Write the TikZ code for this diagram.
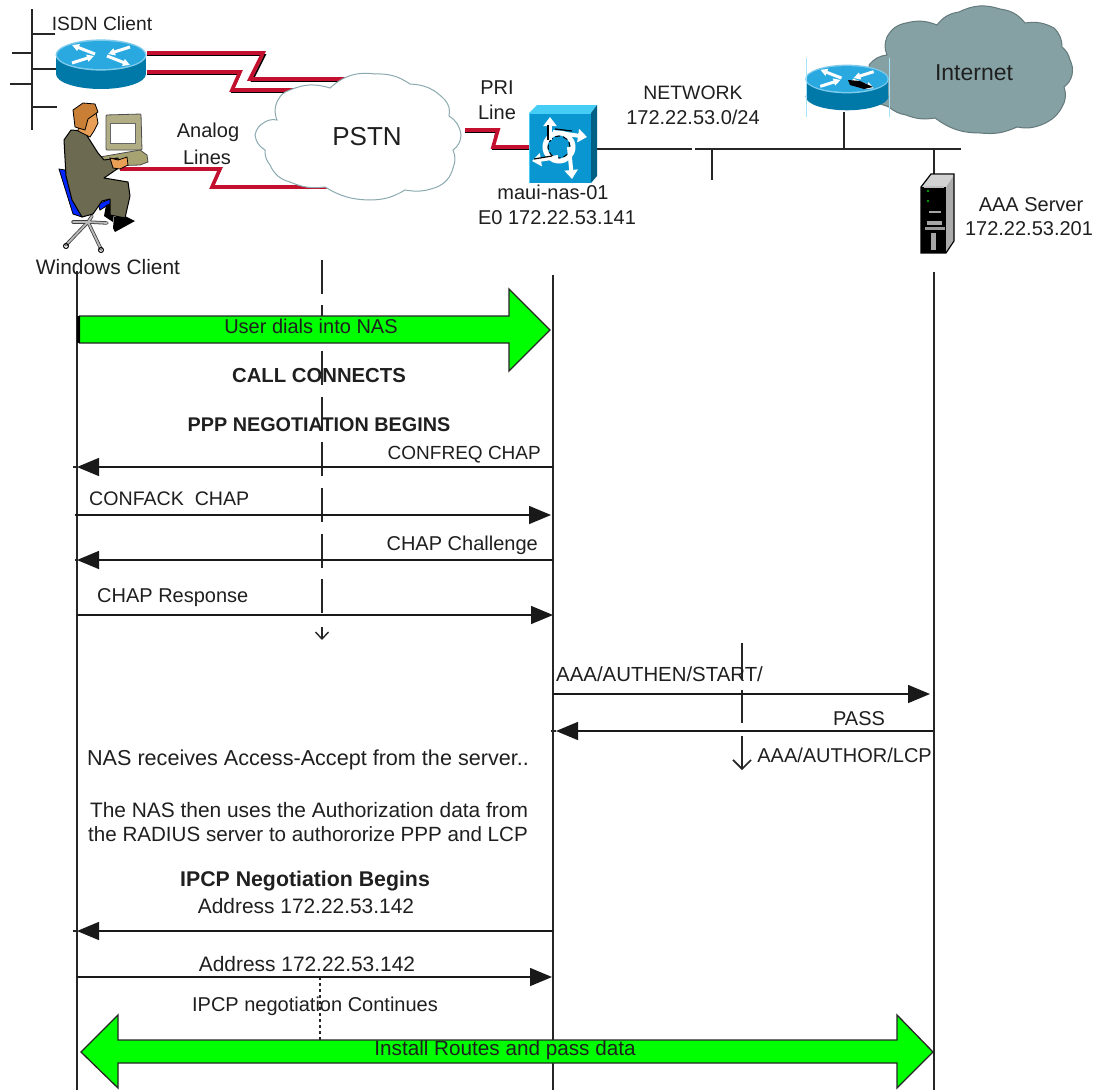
\documentclass[tikz,border=0pt]{standalone}
\usepackage{fontspec}
\setmainfont{Liberation Sans}
\usetikzlibrary{arrows.meta}
\definecolor{rtop}{HTML}{2AA9E0}
\definecolor{rside}{HTML}{0078A8}
\definecolor{swfront}{HTML}{0A96D0}
\definecolor{swside}{HTML}{005F85}
\definecolor{swtop}{HTML}{45CDF5}
\definecolor{wan}{HTML}{C4102F}
\definecolor{inet}{HTML}{85A1A4}
\definecolor{pstnedge}{HTML}{8BAAB0}
\definecolor{suit}{HTML}{6C6A50}
\definecolor{grn}{HTML}{00FF00}
\tikzset{
  lab/.style={font=\fontsize{20}{24}\selectfont,text=black!88,inner sep=0pt},
  fsz/.style={font=\fontsize{#1}{24}\selectfont},
  blab/.style={font=\fontsize{19.5}{24}\selectfont\bfseries,text=black!88,inner sep=0pt},
  bsz/.style={font=\fontsize{#1}{24}\selectfont\bfseries},
  life/.style={line width=1.6pt,black!85},
  thinline/.style={line width=1.5pt,black!85},
  msg/.style={line width=1.5pt,black!90,-{Triangle[length=22pt,width=18pt]}},
  bigarrow/.style={fill=grn,draw=black!85,line width=1.3pt,line join=miter},
  wanred/.style={line width=3.6pt,wan,line join=miter},
  wanblack/.style={line width=1.6pt,black,line join=miter},
  devout/.style={draw=black,line width=1pt,line join=round},
}
\newcommand{\rtricon}[3]{%
\begin{scope}[shift={(#1,#2)},x=#3pt,y=-#3pt]
  \fill[rside] (-45,0) rectangle (45,19);
  \fill[rside] (0,19) ellipse [x radius=#3*45pt,y radius=#3*15pt];
  \fill[rtop!60!white] (0,0) ellipse [x radius=#3*45.5pt,y radius=#3*15.6pt];
  \fill[rtop] (0,0) ellipse [x radius=#3*44pt,y radius=#3*14pt];
  \draw[white,line width=3pt,-{Triangle[length=7pt,width=7pt]}] (-6,-1) -- (-29,-10);
  \draw[white,line width=3pt,-{Triangle[length=7pt,width=7pt]}] (6,1) -- (29,10);
  \draw[white,line width=3pt,-{Triangle[length=7pt,width=7pt]}] (-29,8) -- (-7,1);
  \draw[white,line width=3pt,-{Triangle[length=7pt,width=7pt]}] (29,-8) -- (7,-1);
\end{scope}}
\begin{document}
\begin{tikzpicture}[x=1pt,y=-1pt]
\useasboundingbox (0,0) rectangle (1094,1090);
\fill[white] (0,0) rectangle (1094,1090);

%% ---- named coordinates
\coordinate (busT) at (32,9); \coordinate (busB) at (32,130);
\coordinate (s1a) at (32,34);  \coordinate (s1b) at (55,34);
\coordinate (s2a) at (12,53);  \coordinate (s2b) at (32,53);
\coordinate (s3a) at (32,69);  \coordinate (s3b) at (57,69);
\coordinate (s4a) at (10,84);  \coordinate (s4b) at (32,84);
\coordinate (s5a) at (32,107); \coordinate (s5b) at (57,107);
\coordinate (netL) at (597,149); \coordinate (netG1) at (692,149);
\coordinate (netG2) at (695,149); \coordinate (netR) at (961,149);
\coordinate (stubT) at (712,149); \coordinate (stubB) at (712,180);
\coordinate (r2stemT) at (844,112); \coordinate (r2stemB) at (844,149);
\coordinate (srvT) at (934,149); \coordinate (srvB) at (934,174);

\coordinate (cliT) at (77,271); \coordinate (cliB) at (77,1090);
\coordinate (nasT) at (553,275); \coordinate (nasB) at (553,1090);
\coordinate (aaaT) at (934,272); \coordinate (aaaB) at (934,1090);
\coordinate (midT) at (322,259.5); \coordinate (midB) at (322,616);
\coordinate (midaT) at (322,627); \coordinate (midaB) at (322,640);
\coordinate (dotT) at (320,977); \coordinate (dotB) at (320,1040);
\coordinate (aa1T) at (742,643); \coordinate (aa1B) at (742,680);
\coordinate (aa2T) at (742,690); \coordinate (aa2B) at (742,723);
\coordinate (aa3T) at (742,736); \coordinate (aa3B) at (742,770);

%% ---- ISDN bus
\draw[thinline] (busT) -- (busB);
\draw[thinline] (s1a) -- (s1b);
\draw[thinline] (s2a) -- (s2b);
\draw[thinline] (s3a) -- (s3b);
\draw[thinline] (s4a) -- (s4b);
\draw[thinline] (s5a) -- (s5b);

%% ---- WAN zigzags
\draw[wanblack] (147,55) -- (265,55) -- (252,81) -- (347,81);
\draw[wanred]   (147,53) -- (263,53) -- (250,79) -- (347,79);
\draw[wanblack] (147,74) -- (240,74) -- (232,92) -- (330,92);
\draw[wanred]   (147,72) -- (240,72) -- (232,90) -- (330,90);
\draw[wanred]   (120,169) -- (220,169) -- (212,187) -- (330,187);
\draw[wanblack] (465,132) -- (496,132) -- (493,149) -- (529,149);
\draw[wanred]   (465,130) -- (498,130) -- (493,147) -- (529,147);

%% ---- PSTN cloud
\draw[fill=white,draw=pstnedge,line width=1pt]
  (290,90) to[bend left=20] (330,88) to[bend left=25] (375,74) to[bend left=18] (410,84)
  to[bend left=22] (445,100) to[bend left=25] (449,116) to[bend left=25] (461,135)
  to[bend left=25] (453,150) to[bend left=22] (453,168) to[bend left=25] (437,187)
  to[bend left=15] (405,190) to[bend left=15] (370,200) to[bend left=15] (325,187)
  to[bend left=15] (290,182) to[bend left=25] (270,165) to[bend left=20] (265,150)
  to[bend left=25] (255,135) to[bend left=25] (265,122) to[bend left=20] (277,120)
  to[bend left=25] (278,100) to[bend left=22] (290,90) -- cycle;
\node[lab,fsz=26] (pstn) at (367,137) {PSTN};

%% ---- Internet cloud
\draw[fill=inet,draw=inet!75!black,line width=1pt]
  (869,65) to[bend left=22] (887,55) to[bend left=22] (887,37) to[bend left=25] (906,23)
  to[bend left=18] (937,25) to[bend left=22] (959,12) to[bend left=22] (1000,9)
  to[bend left=22] (1025,23) to[bend left=18] (1054,28) to[bend left=22] (1062,47)
  to[bend left=18] (1070,60) to[bend left=18] (1072,75) to[bend left=18] (1064,87)
  to[bend left=18] (1064,103) to[bend left=22] (1041,125) to[bend left=15] (1017,127)
  to[bend left=15] (980,133) to[bend left=18] (935,118) to[bend left=15] (906,115)
  to[bend left=15] (889,107) -- (869,100) -- cycle;
\node[lab,fsz=23] (internet) at (974,73) {Internet};

%% ---- network segment
\draw[thinline] (netL) -- (netG1);
\draw[thinline] (netG2) -- (netR);
\draw[thinline] (stubT) -- (stubB);
\draw[thinline] (r2stemT) -- (r2stemB);
\draw[thinline] (srvT) -- (srvB);

%% ---- routers
\rtricon{101}{55}{1}
\rtricon{847}{79}{.92}
\fill[black] (848,80) -- (860,81) -- (873,87) -- (864,89) -- (850,85) -- cycle;
\draw[cyan!35,line width=1pt] (806,58) -- (806,117);
\draw[cyan!35,line width=1pt] (889,58) -- (889,117);

%% ---- NAS switch
\fill[swtop] (529,113) -- (537,105) -- (597,105) -- (591,113) -- cycle;
\fill[swside] (591,113) -- (597,105) -- (597,176) -- (591,183) -- cycle;
\fill[swfront] (529,113) rectangle (591,183);
\draw[swtop,line width=1pt] (529,183) -- (529,113) -- (591,113);
\draw[white,line width=5pt] (559,147) circle [radius=14pt];
\draw[black,line width=1pt,dash pattern=on 5pt off 3pt] (559,147) circle [radius=11pt];
\draw[white,line width=4pt,-{Triangle[length=9pt,width=13pt]}] (550,140) -- (550,117);
\draw[white,line width=4pt,-{Triangle[length=9pt,width=13pt]}] (553,132) -- (587,137);
\draw[white,line width=4pt,-{Triangle[length=9pt,width=13pt]}] (558,157) -- (532,161);
\draw[white,line width=4pt,-{Triangle[length=9pt,width=13pt]}] (569,147) -- (572,179);
\draw[black,line width=1.2pt] (548,125) -- (548,140);
\draw[black,line width=1.2pt] (555,129) -- (572,131);
\draw[black,line width=1.2pt] (534,159) -- (552,156);

%% ---- server
\fill[gray!35] (921,187) -- (931,175) -- (954,175) -- (946,187) -- cycle;
\fill[gray!65] (946,187) -- (954,175) -- (954,241) -- (946,253) -- cycle;
\fill[black] (921,187) rectangle (946,253);
\draw[black,line width=1.2pt] (921,187) -- (931,174) -- (954,174) -- (954,241) -- (946,253) -- (921,253) -- cycle;
\draw[gray!50,line width=1.2pt] (924,187) -- (944,187);
\fill[green!80!black] (928,191) circle [radius=1.1pt];
\fill[green!80!black] (928,201) circle [radius=1.1pt];
\draw[gray!70,line width=1.4pt] (929,212) -- (941,212);
\fill[gray!70] (927,221) rectangle (942,225);
\fill[gray!80] (925,227) rectangle (945,230);
\fill[gray!70] (931,233) rectangle (936,250);

%% ---- person at laptop
\fill[rounded corners=1pt,fill=gray!65!olive!70,draw=black!70,line width=.8pt] (106,115) -- (141,114) -- (142,150) -- (106,150) -- cycle;
\fill[white] (110,123) rectangle (135,143);
\draw[black!60,line width=.8pt] (110,123) rectangle (135,143);
\fill[fill=gray!60!olive!80,draw=black!70,line width=.8pt] (100,157) -- (140,150) -- (147,155) -- (148,162) -- (140,165) -- (108,166) -- cycle;
\fill[fill=blue!85!cyan,draw=black,line width=.8pt] (59,169) -- (65,170) -- (83,207) -- (82,217) -- (73,214) -- cycle;
\fill[fill=blue!85!cyan,draw=black,line width=.8pt] (98,204) -- (115,197) -- (116,200) -- (100,210) -- cycle;
\begin{scope}[line cap=round]
  \foreach \ex/\ey in {66/245,101/249,73/222,107/223,92/216}{
    \draw[black!75,line width=3.4pt] (88,222) -- (\ex,\ey);
  }
  \foreach \ex/\ey in {66/245,101/249,73/222,107/223,92/216}{
    \draw[gray!55,line width=1.8pt] (88,222) -- (\ex,\ey);
  }
\end{scope}
\draw[black,line width=1pt] (66,246) circle [radius=2.5pt];
\draw[black,line width=1pt] (101,250) circle [radius=2.5pt];
\fill[black] (106,205) -- (115,203) -- (113,222) -- (104,216) -- cycle;
\fill[black] (114,217) -- (125,216) -- (135,221) -- (115,232) -- (113,228) -- cycle;
\filldraw[fill=suit,devout] (64,140) -- (71,130) -- (84,131) -- (98,153) -- (104,160) -- (118,158) -- (120,167) -- (104,178) -- (128,182) -- (130,196) -- (125,218) -- (110,215) -- (110,199) -- (102,201) -- (93,214) -- (82,217) -- (72,200) -- (66,176) -- cycle;
\filldraw[fill=orange!55!brown!75,draw=black,line width=.8pt] (80,115) -- (96,112) -- (98,123) -- (94,131) -- (90,137) -- (78,131) -- cycle;
\filldraw[fill=brown!85!orange,draw=black,line width=.8pt] (73,110) -- (83,103) -- (95,104) -- (98,112) -- (88,119) -- (85,130) -- (75,127) -- cycle;
\filldraw[fill=orange!55!brown!75,draw=black,line width=.8pt] (110,158) -- (118,160) -- (127,157) -- (128,165) -- (120,169) -- (113,168) -- cycle;

%% ---- lifelines
\draw[life] (cliT) -- (cliB);
\draw[life] (nasT) -- (nasB);
\draw[life] (aaaT) -- (aaaB);
\draw[life,dash pattern=on 34pt off 11.7pt] (midT) -- (midB);
\draw[line width=1.4pt,black!85,-{Straight Barb[length=7pt,width=13pt]}] (midaT) -- (midaB);
\draw[thinline,dash pattern=on 3pt off 3pt] (dotT) -- (dotB);
\draw[life] (aa1T) -- (aa1B);
\draw[life] (aa2T) -- (aa2B);
\draw[life,-{Straight Barb[length=9pt,width=18pt]}] (aa3T) -- (aa3B);

%% ---- big arrows
\filldraw[bigarrow] (79.5,316) -- (509,316) -- (509,289) -- (550,330) -- (509,371) -- (509,343) -- (79.5,343) -- cycle;
\draw[black,line width=3pt] (78,316) -- (78,343);
\filldraw[bigarrow] (81,1052) -- (118,1015) -- (118,1040) -- (897,1040) -- (897,1015) -- (933,1052) -- (897,1088) -- (897,1063) -- (118,1063) -- (118,1088) -- cycle;

%% ---- messages
\coordinate (m1a) at (553,467); \coordinate (m1b) at (77,467); \coordinate (m1x) at (73,467);
\coordinate (m2a) at (75,515);  \coordinate (m2b) at (551,515);
\coordinate (m3a) at (553,560); \coordinate (m3b) at (77,560); \coordinate (m3x) at (75,560);
\coordinate (m4a) at (77,615);  \coordinate (m4b) at (553,615);
\coordinate (m5a) at (553,694); \coordinate (m5b) at (930,694);
\coordinate (m6a) at (933,731); \coordinate (m6b) at (556,731); \coordinate (m6x) at (551,731);
\coordinate (m7a) at (553,931); \coordinate (m7b) at (77,931); \coordinate (m7x) at (73,931);
\coordinate (m8a) at (77,977);  \coordinate (m8b) at (552,977);
\draw[msg] (m1a) -- (m1b);
\draw[thinline] (m1b) -- (m1x);
\draw[msg] (m2a) -- (m2b);
\draw[msg] (m3a) -- (m3b);
\draw[thinline] (m3b) -- (m3x);
\draw[msg] (m4a) -- (m4b);
\draw[msg] (m5a) -- (m5b);
\draw[msg] (m6a) -- (m6b);
\draw[thinline] (m6b) -- (m6x);
\draw[msg] (m7a) -- (m7b);
\draw[thinline] (m7b) -- (m7x);
\draw[msg] (m8a) -- (m8b);

%% ---- labels, top
\node[lab,fsz=19.2] (tisdn) at (102,24) {ISDN Client};
\node[lab,fsz=20.9] (twin) at (108,267) {Windows Client};
\node[lab] (tana1) at (208,132) {Analog};
\node[lab] (tana2) at (207,157) {Lines};
\node[lab] (tpri1) at (497,88) {PRI};
\node[lab] (tpri2) at (497,112) {Line};
\node[lab,fsz=19.4] (tnet1) at (693,93) {NETWORK};
\node[lab,fsz=20] (tnet2) at (693,117) {172.22.53.0/24};
\node[lab] (tmaui) at (553,192) {maui-nas-01};
\node[lab] (te0) at (557,218) {E0 172.22.53.141};
\node[lab] (taaa1) at (1031,205) {AAA Server};
\node[lab] (taaa2) at (1029,229) {172.22.53.201};

%% ---- labels, sequence
\node[lab] (t1) at (311,326) {User dials into NAS};
\node[blab,bsz=20.3] (t2) at (319,376) {CALL CONNECTS};
\node[blab,bsz=19.8] (t3) at (319,425) {PPP NEGOTIATION BEGINS};
\node[lab,fsz=19,anchor=east] (t4) at (541,455) {CONFREQ CHAP};
\node[lab,fsz=19.6,anchor=west] (t5) at (89,499) {CONFACK\ \ CHAP};
\node[lab,anchor=east] (t6) at (538,545) {CHAP Challenge};
\node[lab,anchor=west] (t7) at (97,598) {CHAP Response};
\node[lab,fsz=20.4,anchor=west] (t8) at (556,674) {AAA/AUTHEN/START/};
\node[lab] (t9) at (859,719) {PASS};
\node[lab,anchor=east] (t10) at (932,755) {AAA/AUTHOR/LCP};
\node[lab,fsz=21.6] (t11) at (308,760) {NAS receives Access-Accept from the server..};
\node[lab,fsz=20.9] (t12) at (309,810) {The NAS then uses the Authorization data from};
\node[lab,fsz=20.6] (t13) at (308,834) {the RADIUS server to authororize PPP and LCP};
\node[blab,bsz=21.3] (t14) at (305,881) {IPCP Negotiation Begins};
\node[lab,fsz=20.9] (t15) at (306,906) {Address 172.22.53.142};
\node[lab,fsz=20.9] (t16) at (307,964) {Address 172.22.53.142};
\node[lab] (t17) at (315,1006) {IPCP negotiation Continues};
\node[lab,fsz=20.7] (t18) at (505,1050) {Install Routes and pass data};
\end{tikzpicture}
\end{document}
